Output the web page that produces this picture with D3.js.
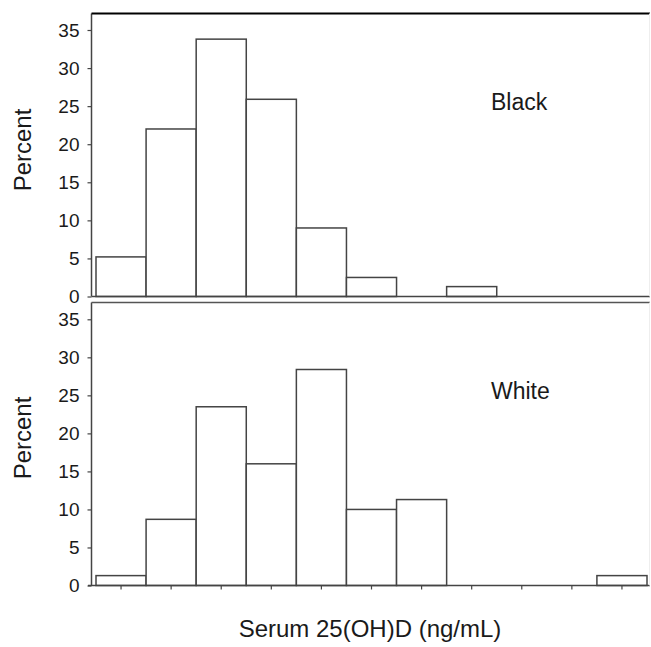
<!DOCTYPE html>
<html>
<head>
<meta charset="utf-8">
<script src="https://cdn.jsdelivr.net/npm/d3@7"></script>
<style>
  body { margin: 0; background: #fff; }
  text { font-family: "Liberation Sans", Arial, sans-serif; fill: #1a1a1a; }
</style>
</head>
<body>
<div id="chart"></div>
<script>
// histogram bins (labels not shown on the original axis)
var bins = [1, 2, 3, 4, 5, 6, 7, 8, 9, 10, 11];
var blackPct = [5.2, 22, 33.8, 25.9, 9, 2.5, 0, 1.3, 0, 0, 0];
var whitePct = [1.3, 8.7, 23.5, 16, 28.4, 10, 11.3, 0, 0, 0, 1.3];
var yTicks = [0, 5, 10, 15, 20, 25, 30, 35];

var W = 651, H = 647;
var left = 91.5, right = 650;

var svg = d3.select("#chart")
  .append("svg")
    .attr("width", W)
    .attr("height", H);

var x = d3.scaleBand()
  .domain(bins)
  .range([96, 647])
  .padding(0);

var panels = [
  { name: "Black", values: blackPct, top: 13.5, y0: 296.5, y35: 30, labelY: 110 },
  { name: "White", values: whitePct, top: 302.5, y0: 585.5, y35: 319.3, labelY: 399 }
];

panels.forEach(function(p, i) {
  var y = d3.scaleLinear()
    .domain([0, 35])
    .range([p.y0, p.y35]);

  var g = svg.append("g");

  // bars
  g.selectAll("rect")
    .data(p.values.map(function(v, j) { return { bin: bins[j], v: v }; })
      .filter(function(d) { return d.v > 0; }))
    .enter().append("rect")
      .attr("x", function(d) { return x(d.bin); })
      .attr("y", function(d) { return y(d.v); })
      .attr("width", x.bandwidth())
      .attr("height", function(d) { return y(0) - y(d.v); })
      .attr("fill", "#fff")
      .attr("stroke", "#444")
      .attr("stroke-width", 1.5);

  // y axis
  var ay = g.append("g")
    .attr("transform", "translate(" + left + ",0)")
    .call(d3.axisLeft(y).tickValues(yTicks).tickSize(4).tickPadding(8));
  ay.select(".domain").remove();
  ay.selectAll("line").attr("stroke", "#444").attr("stroke-width", 1.2);
  ay.selectAll("text")
    .attr("font-size", 19)
    .attr("font-family", "Liberation Sans, Arial, sans-serif")
    .attr("fill", "#1a1a1a");

  // frame lines
  g.append("line")
    .attr("x1", left).attr("x2", left)
    .attr("y1", p.top).attr("y2", p.y0)
    .attr("stroke", "#444").attr("stroke-width", 1.5);
  g.append("line")
    .attr("x1", left).attr("x2", right)
    .attr("y1", p.top).attr("y2", p.top)
    .attr("stroke", i == 0 ? "#000" : "#555").attr("stroke-width", i == 0 ? 2 : 1.5);
  g.append("line")
    .attr("x1", i == 0 ? left : 88).attr("x2", right)
    .attr("y1", p.y0).attr("y2", p.y0)
    .attr("stroke", "#444").attr("stroke-width", 1.5);
  g.append("line")
    .attr("x1", 649.5).attr("x2", 649.5)
    .attr("y1", p.top).attr("y2", p.y0)
    .attr("stroke", "#eee").attr("stroke-width", 1);

  // panel label
  g.append("text")
    .attr("x", 491)
    .attr("y", p.labelY)
    .attr("font-size", 23)
    .text(p.name);

  // y title
  g.append("text")
    .attr("transform", "translate(31," + ((p.top + p.y0) / 2 + (i == 0 ? -5 : -6)) + ") rotate(-90)")
    .attr("text-anchor", "middle")
    .attr("font-size", 24)
    .text("Percent");
});

// x axis ticks (bottom panel only, no labels)
var ax = svg.append("g")
  .attr("transform", "translate(0,585.5)")
  .call(d3.axisBottom(x).tickSize(4).tickFormat(""));
ax.select(".domain").remove();
ax.selectAll("line").attr("stroke", "#444").attr("stroke-width", 1.2);

svg.append("text")
  .attr("x", 370)
  .attr("y", 637)
  .attr("text-anchor", "middle")
  .attr("font-size", 24)
  .text("Serum 25(OH)D (ng/mL)");
</script>
</body>
</html>
